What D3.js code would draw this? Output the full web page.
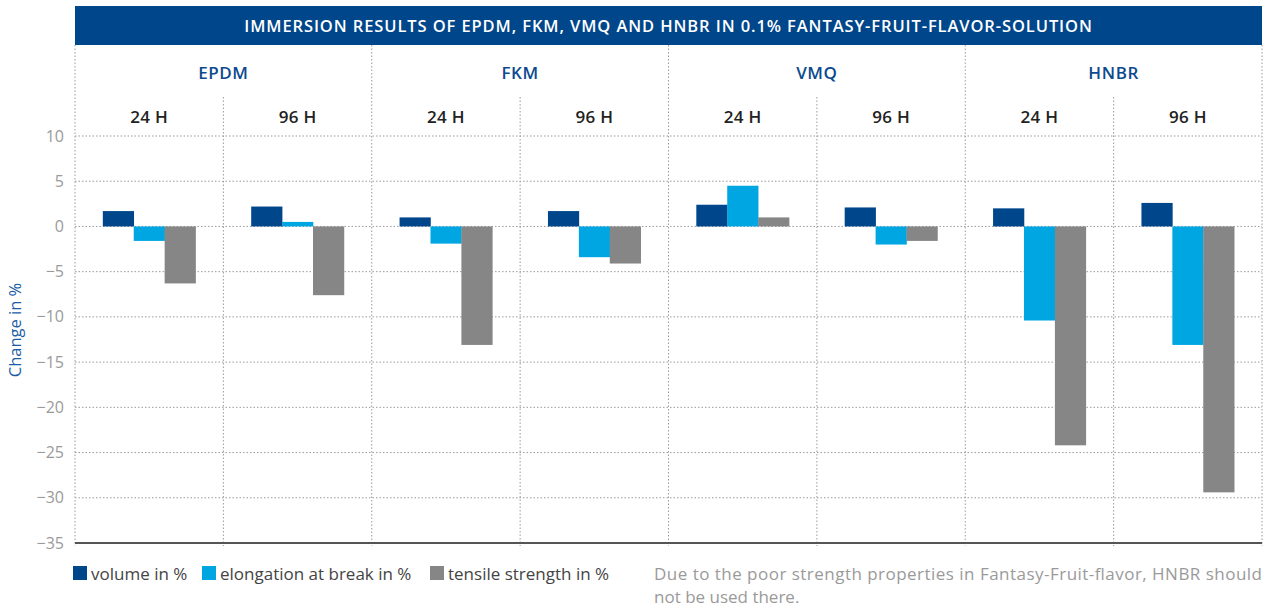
<!DOCTYPE html>
<html>
<head>
  <meta charset="utf-8"/>
  <title>Immersion results</title>
  <script src="https://d3js.org/d3.v7.min.js"></script>
  <style>
body { margin: 0; background: #fff; }
svg { display: block; font-family: "Open Sans", sans-serif; }
.grid line { stroke: #9a9a9a; stroke-dasharray: 1.5,2; stroke-width: 1; }
.tick-label { fill: #9a9a9a; font-size: 16px; text-anchor: end; }
.material { fill: #0b4a8f; font-size: 17px; font-weight: 600; text-anchor: middle; letter-spacing: 0.6px; }
.duration { fill: #222; font-size: 17px; font-weight: 600; text-anchor: middle; letter-spacing: 0.3px; }
.legend text { fill: #444; font-size: 17px; }
.note { fill: #9a9a9a; font-size: 17px; }
  </style>
</head>
<body>
<svg width="1274" height="610"></svg>
<script>

var materials = ["EPDM", "FKM", "VMQ", "HNBR"],
    durations = ["24 H", "96 H"],
    seriesNames = ["volume in %", "elongation at break in %", "tensile strength in %"],
    seriesColors = ["#00468b", "#00a6e2", "#868686"];

// one value per material/duration column, in order EPDM 24, EPDM 96, FKM 24, ...
var volume     = [1.7, 2.2, 1.0, 1.7, 2.4, 2.1, 2.0, 2.6],
    elongation = [-1.6, 0.5, -1.9, -3.4, 4.5, -2.0, -10.4, -13.1],
    tensile    = [-6.3, -7.6, -13.1, -4.1, 1.0, -1.6, -24.2, -29.4];

var yTicks = [10, 5, 0, -5, -10, -15, -20, -25, -30, -35];

var svg = d3.select("svg"),
    plotLeft = 75, plotRight = 1262,
    plotTop = 136, plotBottom = 543;

var columns = [];
materials.forEach(function(m) {
  durations.forEach(function(d) { columns.push(m + "|" + d); });
});

var rows = columns.map(function(c, i) {
  return { key: c, values: [volume[i], elongation[i], tensile[i]] };
});

var x0 = d3.scaleBand().domain(columns).range([plotLeft, plotRight]);
var xm = d3.scaleBand().domain(materials).range([plotLeft, plotRight]);
var x1 = d3.scaleBand().domain(d3.range(3)).range([0, x0.bandwidth()])
    .paddingInner(0).paddingOuter(0.9);
var y = d3.scaleLinear().domain([-35, 10]).range([plotBottom, plotTop]);

// title bar
svg.append("rect")
    .attr("x", plotLeft).attr("y", 6)
    .attr("width", plotRight - plotLeft).attr("height", 39)
    .attr("fill", "#00468b");
svg.append("text")
    .attr("x", (plotLeft + plotRight) / 2).attr("y", 32)
    .attr("text-anchor", "middle")
    .attr("fill", "#fff")
    .style("font-size", "16.5px").style("font-weight", 600).style("letter-spacing", "0.9px")
    .text("IMMERSION RESULTS OF EPDM, FKM, VMQ AND HNBR IN 0.1% FANTASY-FRUIT-FLAVOR-SOLUTION");

// grid
var grid = svg.append("g").attr("class", "grid");
grid.selectAll(".h")
  .data(yTicks.filter(function(t) { return t > -35; }))
  .enter().append("line")
    .attr("x1", plotLeft).attr("x2", plotRight)
    .attr("y1", function(d) { return y(d); })
    .attr("y2", function(d) { return y(d); });

// material dividers (full height) and duration dividers
var matEdges = materials.map(function(m) { return xm(m); }).concat([plotRight]);
grid.selectAll(".vm")
  .data(matEdges)
  .enter().append("line")
    .attr("x1", function(d) { return d; }).attr("x2", function(d) { return d; })
    .attr("y1", 45).attr("y2", plotBottom + 3);
grid.selectAll(".vd")
  .data(materials)
  .enter().append("line")
    .attr("x1", function(m) { return xm(m) + xm.bandwidth() / 2; })
    .attr("x2", function(m) { return xm(m) + xm.bandwidth() / 2; })
    .attr("y1", 97).attr("y2", plotBottom + 3);

// headers
svg.selectAll(".material")
  .data(materials)
  .enter().append("text")
    .attr("class", "material")
    .attr("x", function(m) { return xm(m) + xm.bandwidth() / 2; })
    .attr("y", 79)
    .text(function(m) { return m; });

svg.selectAll(".duration")
  .data(columns)
  .enter().append("text")
    .attr("class", "duration")
    .attr("x", function(c) { return x0(c) + x0.bandwidth() / 2; })
    .attr("y", 123)
    .text(function(c) { return c.split("|")[1]; });

// bars
var groups = svg.selectAll(".col")
  .data(rows)
  .enter().append("g")
    .attr("transform", function(d) { return "translate(" + x0(d.key) + ",0)"; });

groups.selectAll("rect")
  .data(function(d) { return d.values; })
  .enter().append("rect")
    .attr("x", function(v, i) { return x1(i); })
    .attr("width", x1.bandwidth() + 0.3)
    .attr("y", function(v) { return y(Math.max(0, v)); })
    .attr("height", function(v) { return Math.abs(y(v) - y(0)); })
    .attr("fill", function(v, i) { return seriesColors[i]; });

// bottom axis line
svg.append("line")
    .attr("x1", plotLeft).attr("x2", plotRight)
    .attr("y1", plotBottom).attr("y2", plotBottom)
    .attr("stroke", "#555").attr("stroke-width", 2);

// y tick labels
svg.selectAll(".tick-label")
  .data(yTicks)
  .enter().append("text")
    .attr("class", "tick-label")
    .attr("x", 64)
    .attr("y", function(d) { return y(d) + 5.5; })
    .text(function(d) { return d < 0 ? "\u2212" + Math.abs(d) : d; });

svg.append("text")
    .attr("transform", "translate(21," + 330 + ") rotate(-90)")
    .attr("text-anchor", "middle")
    .attr("fill", "#1a5da6")
    .style("font-size", "16.5px")
    .text("Change in %");

// legend
var legendX = [73, 202, 430];
var legend = svg.append("g").attr("class", "legend");
seriesNames.forEach(function(name, i) {
  legend.append("rect")
      .attr("x", legendX[i]).attr("y", 566)
      .attr("width", 14).attr("height", 14)
      .attr("fill", seriesColors[i]);
  legend.append("text")
      .attr("x", legendX[i] + 18).attr("y", 580)
      .text(name);
});

// note
svg.append("text")
    .attr("class", "note")
    .attr("x", 654).attr("y", 580)
    .attr("textLength", plotRight - 654).attr("lengthAdjust", "spacing")
    .text("Due to the poor strength properties in Fantasy-Fruit-flavor, HNBR should");
svg.append("text")
    .attr("class", "note")
    .attr("x", 654).attr("y", 603)
    .text("not be used there.");

</script>
</body>
</html>
